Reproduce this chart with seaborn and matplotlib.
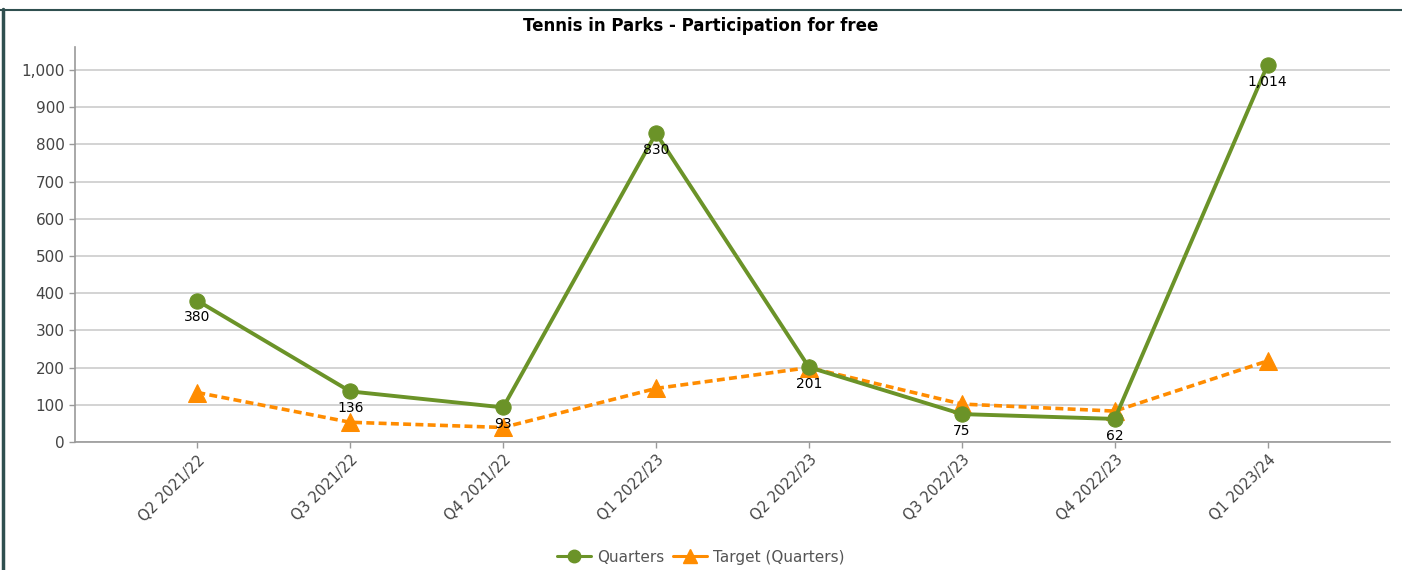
import pandas as pd
import matplotlib.pyplot as plt
import seaborn as sns
from matplotlib.lines import Line2D

# Data
quarters = ["Q2 2021/22", "Q3 2021/22", "Q4 2021/22", "Q1 2022/23",
            "Q2 2022/23", "Q3 2022/23", "Q4 2022/23", "Q1 2023/24"]
actual = [380, 136, 93, 830, 201, 75, 62, 1014]
target = [133, 53, 39, 144, 200, 102, 83, 218]

green = "#6b9328"
orange = "#ff8c00"

sns.set_theme(style="white")
plt.rcParams["font.family"] = ["DejaVu Sans"]

df = pd.DataFrame({"quarter": quarters, "Quarters": actual, "Target (Quarters)": target})

fig = plt.figure(figsize=(14.02, 5.70), dpi=100)
ax = fig.add_axes([0.0535, 0.2246, 0.9379, 0.6929])

sns.lineplot(data=df, x="quarter", y="Target (Quarters)", ax=ax, color=orange,
             linewidth=2.6, linestyle=(0, (2.2, 1.2)), marker="^", markersize=13,
             markeredgecolor=orange, label="Target (Quarters)", zorder=3)
sns.lineplot(data=df, x="quarter", y="Quarters", ax=ax, color=green,
             linewidth=2.8, marker="o", markersize=11, markeredgecolor=green,
             label="Quarters", zorder=4)

# value labels under the green points
for i, v in enumerate(actual):
    ax.annotate(f"{v:,}", (i, v), xytext=(0, -12), textcoords="offset points",
                ha="center", va="center", fontsize=10, color="black", zorder=5)

ax.set_xlim(-0.8, 7.8)
ax.set_ylim(0, 1062)
ax.set_yticks(range(0, 1001, 100))
ax.yaxis.set_major_formatter(plt.FuncFormatter(lambda v, p: f"{int(v):,}"))
ax.grid(axis="y", color="#c8c8c8", linewidth=1.1)
ax.set_axisbelow(True)

for side in ["top", "right"]:
    ax.spines[side].set_visible(False)
for side in ["left", "bottom"]:
    ax.spines[side].set_color("#9a9a9a")
    ax.spines[side].set_linewidth(1.2)

ax.tick_params(axis="both", which="major", length=4, width=1, color="#9a9a9a",
               labelcolor="#444444", left=True, bottom=True)
ax.tick_params(axis="y", labelsize=11)
ax.tick_params(axis="x", labelsize=10.5)
plt.setp(ax.get_xticklabels(), rotation=45, ha="right", rotation_mode="anchor")
ax.set_xlabel("")
ax.set_ylabel("")

fig.text(0.5, 1 - 26 / 570, "Tennis in Parks - Participation for free",
         fontsize=12, fontweight="bold", color="black", ha="center", va="center")

handles = [
    Line2D([], [], color=green, linewidth=2.2, marker="o", markersize=9),
    Line2D([], [], color=orange, linewidth=2.2, marker="^", markersize=10),
]
ax.legend(handles, ["Quarters", "Target (Quarters)"], loc="lower center",
          ncol=2, frameon=False, fontsize=11, handlelength=2.2,
          handletextpad=0.4, columnspacing=0.6, labelcolor="#555555")
leg = ax.get_legend()
leg.set_bbox_to_anchor((0.5, -0.015), transform=fig.transFigure)

# panel frame edges visible in the screenshot
fig.add_artist(Line2D([0.002, 0.002], [0, 0.985], transform=fig.transFigure,
                      color="#2f4f4f", linewidth=2.5))
fig.add_artist(Line2D([0, 1], [0.983, 0.983], transform=fig.transFigure,
                      color="#2f4f4f", linewidth=1.5))

fig.savefig("out.png", dpi=100)
